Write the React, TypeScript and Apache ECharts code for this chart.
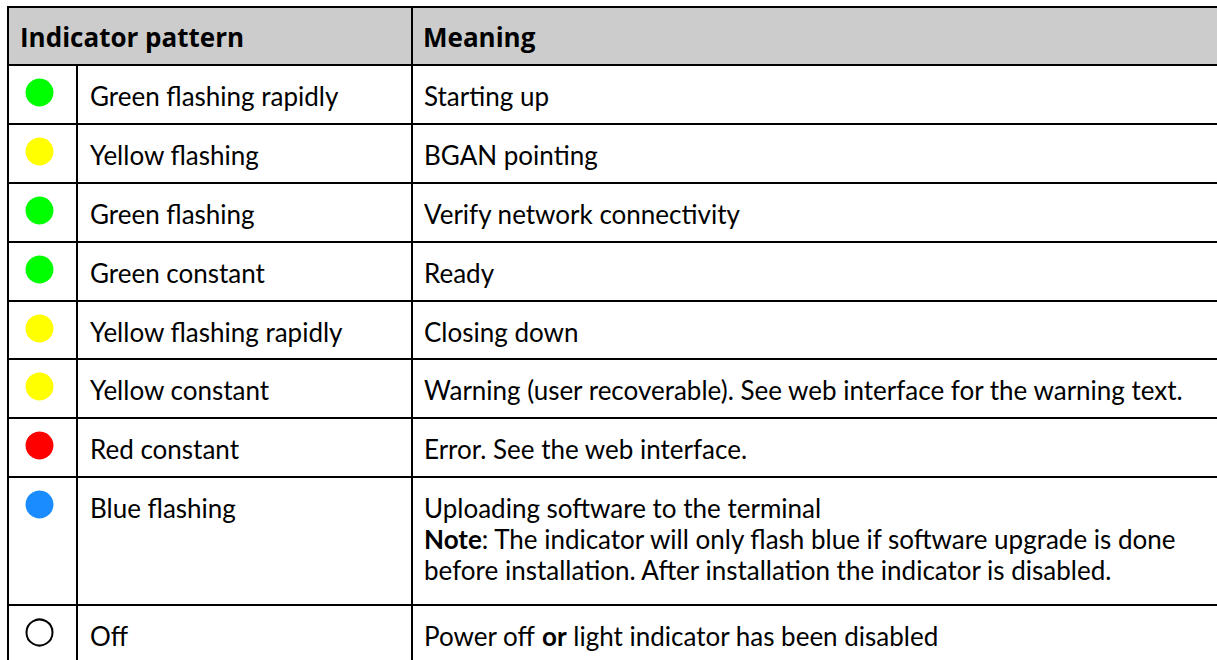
import React, { useEffect, useRef } from "react";
import * as echarts from "echarts";

const headers = ["Indicator pattern", "Meaning"];
const indicatorColors = ["#00ff00", "#ffff00", "#00ff00", "#00ff00", "#ffff00", "#ffff00", "#ff0000", "#1a8cff", "none"];
const patterns = [
  "Green flashing rapidly",
  "Yellow flashing",
  "Green flashing",
  "Green constant",
  "Yellow flashing rapidly",
  "Yellow constant",
  "Red constant",
  "Blue flashing",
  "Off",
];
const meanings = [
  ["Starting up"],
  ["BGAN pointing"],
  ["Verify network connectivity"],
  ["Ready"],
  ["Closing down"],
  ["Warning (user recoverable). See web interface for the warning text."],
  ["Error. See the web interface."],
  [
    "Uploading software to the terminal",
    "{b|Note}: The indicator will only flash blue if software upgrade is done",
    "before installation. After installation the indicator is disabled.",
  ],
  ["Power off {b|or} light indicator has been disabled"],
];

// layout
const LEFT = 8;
const RIGHT = 1230;
const TOP = 7;
const HEADER_H = 58;
const ROW_LINES = [65, 124, 183, 242, 301, 359, 418, 477, 605, 664];
const COL1 = 77;
const COL2 = 412;
const FONT = "Lato, 'Open Sans', sans-serif";
const HFONT = "'Open Sans', sans-serif";
const FS = 26;
const LH = 31;

export default function App() {
  const ref = useRef<HTMLDivElement>(null);
  useEffect(() => {
    const chart = echarts.init(ref.current!, null, { renderer: "svg" });
    const els: any[] = [];
    els.push({ type: "rect", shape: { x: LEFT, y: TOP, width: RIGHT - LEFT, height: HEADER_H }, style: { fill: "#cccccc" } });
    els.push({
      type: "text", x: 20, y: TOP + HEADER_H / 2 + 1,
      style: { text: headers[0], fontFamily: HFONT, fontSize: 26, fontWeight: "bold", fill: "#000", verticalAlign: "middle" },
    });
    els.push({
      type: "text", x: 423, y: TOP + HEADER_H / 2 + 1,
      style: { text: headers[1], fontFamily: HFONT, fontSize: 26, fontWeight: "bold", fill: "#000", verticalAlign: "middle" },
    });
    patterns.forEach((p, i) => {
      const top = ROW_LINES[i];
      const bottom = ROW_LINES[i + 1];
      const c = indicatorColors[i];
      els.push({
        type: "circle",
        shape: { cx: 39.5, cy: top + 27.5, r: c === "none" ? 13 : 14 },
        style: c === "none" ? { fill: "#fff", stroke: "#000", lineWidth: 2 } : { fill: c },
      });
      els.push({
        type: "text", x: 90, y: top + 31,
        style: { text: p, fontFamily: FONT, fontSize: FS, fill: "#000", verticalAlign: "middle" },
      });
      const m = meanings[i];
      els.push({
        type: "text", x: 424, y: top + 31 - LH / 2,
        style: {
          text: m.join("\n"), fontFamily: FONT, fontSize: FS, fill: "#000", lineHeight: LH, verticalAlign: "top",
          rich: { b: { fontFamily: FONT, fontSize: FS, fontWeight: "bold", fill: "#000", lineHeight: LH } },
        },
      });
      els.push({ type: "line", shape: { x1: LEFT, y1: bottom, x2: RIGHT, y2: bottom }, style: { stroke: "#000", lineWidth: 2 } });
    });
    els.push({ type: "line", shape: { x1: LEFT - 1, y1: TOP, x2: RIGHT, y2: TOP }, style: { stroke: "#000", lineWidth: 2 } });
    els.push({ type: "line", shape: { x1: LEFT, y1: ROW_LINES[0], x2: RIGHT, y2: ROW_LINES[0] }, style: { stroke: "#000", lineWidth: 2 } });
    els.push({ type: "line", shape: { x1: LEFT, y1: TOP, x2: LEFT, y2: 700 }, style: { stroke: "#000", lineWidth: 2 } });
    els.push({ type: "line", shape: { x1: COL1, y1: ROW_LINES[0], x2: COL1, y2: 700 }, style: { stroke: "#000", lineWidth: 2 } });
    els.push({ type: "line", shape: { x1: COL2, y1: TOP, x2: COL2, y2: 700 }, style: { stroke: "#000", lineWidth: 2 } });

    chart.setOption({ animation: false, graphic: { elements: els } });
    return () => chart.dispose();
  }, []);
  return <div ref={ref} style={{ position: "fixed", left: 0, top: 0, width: 1217, height: 660, background: "#fff" }} />;
}
